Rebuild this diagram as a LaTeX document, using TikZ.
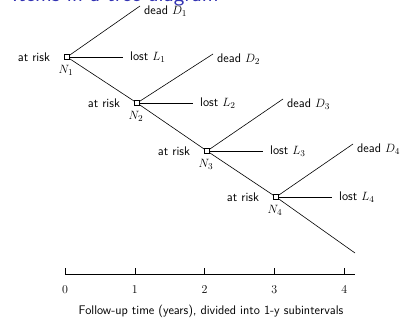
\documentclass[tikz,border=0pt]{standalone}
\usepackage{fontspec}
\usetikzlibrary{positioning}
\definecolor{titleblue}{rgb}{0.2,0.2,0.7}
\tikzset{
  risknode/.style={draw, line width=0.6pt, rectangle, minimum size=5pt, inner sep=0pt},
  branch/.style={line width=0.6pt},
  lab/.style={font=\sffamily\fontsize{12.5}{15}\selectfont, inner sep=1pt},
}
\begin{document}
\begin{tikzpicture}[x=1pt,y=1pt]
  \useasboundingbox (-65,-48) rectangle (337,274);
  \node[anchor=base west, text=titleblue, font=\sffamily\fontsize{22.5}{27}\selectfont, inner sep=0pt] (title) at (-53,272) {Items in a tree diagram};
  % risk sets
  \node[risknode] (N1) at (2,217) {};
  \node[risknode] (N2) at (72,171) {};
  \node[risknode] (N3) at (142,123) {};
  \node[risknode] (N4) at (211,77) {};
  \coordinate (tail) at (290,21);
  \draw[branch] (N1) -- (N2) -- (N3) -- (N4) -- (tail);
  % dead and lost ends
  \coordinate (d1) at (75,268);
  \coordinate (d2) at (148,220);
  \coordinate (d3) at (218,175);
  \coordinate (d4) at (288,130);
  \coordinate (l1) at (58,217);
  \coordinate (l2) at (128,171);
  \coordinate (l3) at (198,123);
  \coordinate (l4) at (267,77);
  \draw[branch] (N1) -- (d1);
  \draw[branch] (N2) -- (d2);
  \draw[branch] (N3) -- (d3);
  \draw[branch] (N4) -- (d4);
  \draw[branch] (N1) -- (l1);
  \draw[branch] (N2) -- (l2);
  \draw[branch] (N3) -- (l3);
  \draw[branch] (N4) -- (l4);
  % labels
  \node[lab, left=13pt of N1] (r1) {at risk};
  \node[lab, left=13pt of N2] (r2) {at risk};
  \node[lab, left=13pt of N3] (r3) {at risk};
  \node[lab, left=13pt of N4] (r4) {at risk};
  \node[lab, below=4pt of N1, xshift=-1pt] (n1) {\(N_1\)};
  \node[lab, below=4pt of N2, xshift=-1pt] (n2) {\(N_2\)};
  \node[lab, below=4pt of N3, xshift=-1pt] (n3) {\(N_3\)};
  \node[lab, below=4pt of N4, xshift=-1pt] (n4) {\(N_4\)};
  \node[lab, right=6pt of l1] (lost1) {lost \(L_1\)};
  \node[lab, right=6pt of l2] (lost2) {lost \(L_2\)};
  \node[lab, right=6pt of l3] (lost3) {lost \(L_3\)};
  \node[lab, right=6pt of l4] (lost4) {lost \(L_4\)};
  \node[lab, below right=-1pt and 3pt of d1] (dead1) {dead \(D_1\)};
  \node[lab, below right=-1pt and 3pt of d2] (dead2) {dead \(D_2\)};
  \node[lab, below right=-1pt and 3pt of d3] (dead3) {dead \(D_3\)};
  \node[lab, below right=-1pt and 3pt of d4] (dead4) {dead \(D_4\)};
  % time axis
  \coordinate (t0) at (0,0);
  \coordinate (tend) at (290,0);
  \draw[branch] (t0) -- (tend);
  \foreach \i in {0,...,4} {
    \draw[branch] (\i*69.8,0) -- (\i*69.8,6);
    \node[lab] (tick\i) at (\i*69.8,-16) {\(\i\)};
  }
  \node[lab] (caption) at (146,-37) {Follow-up time (years), divided into 1-y subintervals};
\end{tikzpicture}
\end{document}
